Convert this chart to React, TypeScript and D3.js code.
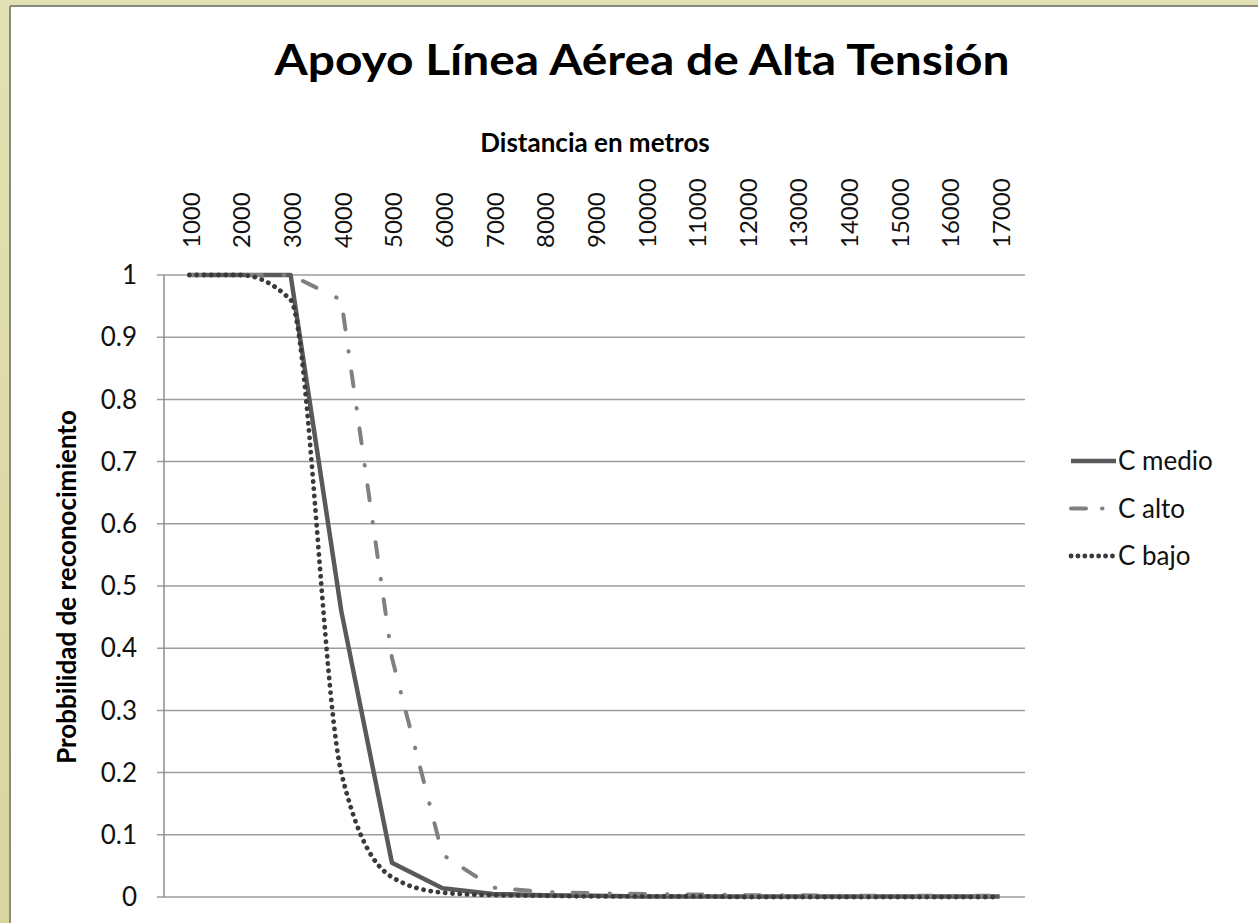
import React from "react";
import * as d3 from "d3";

const W = 1258;
const H = 923;

// categories on the top axis (metros)
const distancias = [
  "1000", "2000", "3000", "4000", "5000", "6000", "7000", "8000", "9000",
  "10000", "11000", "12000", "13000", "14000", "15000", "16000", "17000",
];
const yTicks = [0, 0.1, 0.2, 0.3, 0.4, 0.5, 0.6, 0.7, 0.8, 0.9, 1];

const cMedio = [1, 1, 1, 0.46, 0.055, 0.014, 0.005, 0.003, 0.002, 0.001, 0.001, 0.001, 0.001, 0.001, 0.001, 0.001, 0.001];
const cAlto = [1, 1, 1, 0.96, 0.385, 0.068, 0.015, 0.008, 0.006, 0.005, 0.004, 0.003, 0.003, 0.002, 0.002, 0.002, 0.002];
const cBajo = [1, 1, 0.96, 0.2, 0.032, 0.007, 0.003, 0.002, 0.001, 0.001, 0.001, 0, 0, 0, 0, 0, 0];

const series = [
  { name: "C medio", values: cMedio, color: "#595959", width: 4.5, dash: null, legendDash: null, cap: "butt", smooth: false },
  { name: "C alto", values: cAlto, color: "#808080", width: 4, dash: "15 22 0.5 20", legendDash: "15 16 0.5 16", cap: "round", smooth: false },
  { name: "C bajo", values: cBajo, color: "#3a3a3a", width: 4.8, dash: "0.1 7.2", legendDash: "0.1 6.8", cap: "round", smooth: true },
];

const FONT = "Lato, 'Open Sans', sans-serif";

export default function App() {
  const margin = { left: 164, right: 1025, top: 275, bottom: 897 };

  const x = d3.scaleBand().domain(distancias).range([margin.left, margin.right]);
  const y = d3.scaleLinear().domain([0, 1]).range([margin.bottom, margin.top]);
  const cx = (d) => x(d) + x.bandwidth() / 2;

  const makeLine = (smooth) =>
    d3
      .line()
      .x((_, i) => cx(distancias[i]))
      .y((d) => y(d))
      .curve(smooth ? d3.curveMonotoneX : d3.curveLinear);

  return (
    <svg width={W} height={H} style={{ position: "absolute", left: 0, top: 0 }} fontFamily={FONT}>
      <defs>
        <linearGradient id="bg" x1="0" y1="0" x2="0" y2="1">
          <stop offset="0" stopColor="#e2e1b4" />
          <stop offset="1" stopColor="#d7d69c" />
        </linearGradient>
      </defs>
      <rect x={0} y={0} width={W} height={H} fill="url(#bg)" />
      <rect x={10} y={6} width={W} height={H - 4} fill="#ffffff" />
      <line x1={10} y1={6} x2={W} y2={6} stroke="#8a8a80" strokeWidth={2} />
      <line x1={10} y1={6} x2={10} y2={H} stroke="#8a8a80" strokeWidth={2} />

      {/* title */}
      <text x={642} y={75} textAnchor="middle" fontSize={42} fontWeight="bold" fill="#000"
        textLength={735} lengthAdjust="spacingAndGlyphs">
        Apoyo Línea Aérea de Alta Tensión
      </text>
      <text x={595} y={152} textAnchor="middle" fontSize={26} fontWeight="bold" fill="#000">
        Distancia en metros
      </text>
      <text transform={`translate(76,587) rotate(-90)`} textAnchor="middle" fontSize={26} fontWeight="bold" fill="#000">
        Probbilidad de reconocimiento
      </text>

      {/* gridlines + y ticks */}
      {yTicks.map((t) => (
        <g key={t}>
          <line x1={margin.left - 7} x2={margin.right} y1={y(t)} y2={y(t)} stroke="#9d9d9d" strokeWidth={1.5} />
          <text x={137} y={y(t)} dy="0.35em" textAnchor="end" fontSize={26} fill="#111">
            {d3.format("")(t)}
          </text>
        </g>
      ))}
      <line x1={margin.left} x2={margin.left} y1={margin.top} y2={margin.bottom} stroke="#8d8d8d" strokeWidth={1.5} />

      {/* x category labels (top) */}
      {distancias.map((d) => (
        <text key={d} transform={`translate(${cx(d) + 2},248) rotate(-90)`} dy="0.35em" textAnchor="start"
          fontSize={24} fill="#111">
          {d}
        </text>
      ))}

      {/* series */}
      {series.map((s) => (
        <path key={s.name} d={makeLine(s.smooth)(s.values)} fill="none" stroke={s.color}
          strokeWidth={s.width} strokeDasharray={s.dash || undefined} strokeLinecap={s.cap}
          strokeLinejoin="round" />
      ))}

      {/* legend */}
      {series.map((s, i) => {
        const ly = 461 + i * 47.5;
        return (
          <g key={s.name}>
            <line x1={1071} x2={1116} y1={ly} y2={ly} stroke={s.color} strokeWidth={s.width}
              strokeDasharray={s.legendDash || undefined} strokeLinecap={s.cap} />
            <text x={1118} y={ly} dy="0.35em" fontSize={26} fill="#111">
              {s.name}
            </text>
          </g>
        );
      })}
    </svg>
  );
}
